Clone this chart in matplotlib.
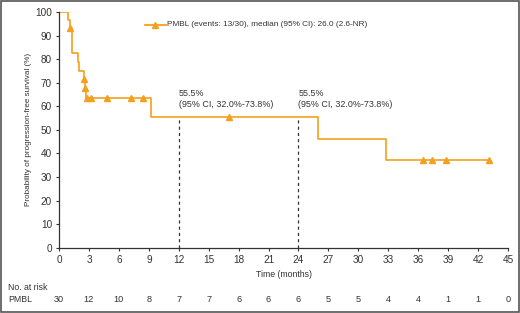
import matplotlib.pyplot as plt
from matplotlib.patches import Rectangle

plt.rcParams["font.family"] = ["Liberation Sans", "DejaVu Sans"]

# Kaplan-Meier step curve (months, %)
step_t = [0, 0.93, 1.1, 1.33, 1.87, 2.0, 2.5, 2.6, 2.7, 9.2, 26.0, 32.8]
step_s = [100, 96.7, 93.3, 82.6, 78.9, 75.1, 71.6, 67.9, 63.6, 55.5, 46.3, 37.0]
end_t = 43.2

# censor markers
cens_t = [1.1, 2.5, 2.6, 2.84, 3.17, 4.78, 7.18, 8.45, 17.0, 36.5, 37.4, 38.8, 43.1]
cens_s = [93.3, 71.6, 67.9, 63.6, 63.6, 63.6, 63.6, 63.6, 55.5, 37.0, 37.0, 37.0, 37.0]

landmarks = [12, 24]
landmark_s = 55.5
landmark_txt = "55.5%\n(95% CI, 32.0%-73.8%)"

risk_times = list(range(0, 46, 3))
risk_pmbl = [30, 12, 10, 8, 7, 7, 6, 6, 6, 5, 5, 4, 4, 1, 1, 0]

orange = "#F4A01E"
dark = "#333333"

fig = plt.figure(figsize=(5.2, 3.13), dpi=100)
ax = fig.add_axes([0.1135, 0.2086, 0.977 - 0.1135, 0.9617 - 0.2086])

ax.step(step_t + [end_t], step_s + [step_s[-1]], where="post", color=orange, lw=1.2)
ax.plot(cens_t, cens_s, ls="none", marker="^", ms=5, color=orange)

for t in landmarks:
    ax.plot([t, t], [0, landmark_s], ls=(0, (2.5, 2.5)), color=dark, lw=0.9)
    ax.text(t, 59, landmark_txt, fontsize=6.4, color=dark, va="bottom", ha="left",
            linespacing=1.3)

ax.set_xlim(0, 45)
ax.set_ylim(0, 100)
ax.set_xticks(range(0, 46, 3))
ax.set_yticks(range(0, 101, 10))
ax.tick_params(labelsize=7.2, length=2.5, width=0.8, colors=dark, pad=2.5)
for s in ["top", "right"]:
    ax.spines[s].set_visible(False)
for s in ["left", "bottom"]:
    ax.spines[s].set_linewidth(0.9)
    ax.spines[s].set_color(dark)

ax.set_xlabel("Time (months)", fontsize=6.3, color=dark, labelpad=4)
ax.set_ylabel("Probability of progression-free survival (%)", fontsize=5.9, color=dark, labelpad=2)

# legend entry
ax.plot([8.6, 10.7], [94.5, 94.5], color=orange, lw=1.3, clip_on=False)
ax.plot([9.65], [94.5], ls="none", marker="^", ms=5, color=orange)
ax.text(10.85, 94.5, "PMBL (events: 13/30), median (95% CI): 26.0 (2.6-NR)",
        fontsize=5.95, color=dark, va="center", ha="left")

# risk table
fig.text(8 / 520, 1 - 287 / 313, "No. at risk", fontsize=6.3, color=dark, va="center")
fig.text(8 / 520, 1 - 300 / 313, "PMBL", fontsize=6.3, color=dark, va="center")
for t, n in zip(risk_times, risk_pmbl):
    xf = (59 + t * (508 - 59) / 45) / 520
    fig.text(xf, 1 - 300 / 313, str(n), fontsize=6.6, color=dark, va="center", ha="center")

fig.patches.append(Rectangle((0.001, 0.002), 0.997, 0.996, transform=fig.transFigure,
                             fill=False, edgecolor="#555555", lw=1.2))

fig.savefig("out.png", dpi=100)
